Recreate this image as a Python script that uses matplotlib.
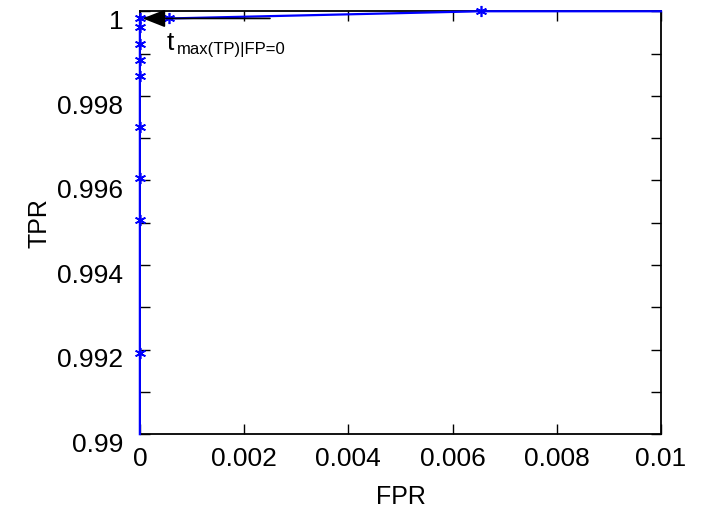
import numpy as np
import matplotlib.pyplot as plt
import matplotlib.transforms as mtransforms

plt.rcParams['font.family'] = ['Liberation Sans', 'DejaVu Sans']

# ROC points (FPR, TPR)
fpr = [0.0, 0.0, 0.0, 0.0, 0.0, 0.0, 0.0, 0.0, 0.0, 0.0, 0.00056, 0.00655, 0.01]
tpr = [0.99, 0.99191, 0.99506, 0.99605, 0.99726, 0.99846, 0.99884, 0.99922, 0.99962, 0.99985,
       0.99983, 1.0, 1.0]
star_idx = list(range(1, 12))

xticks = [0, 0.002, 0.004, 0.006, 0.008, 0.01]
xticklabels = ['0', '0.002', '0.004', '0.006', '0.008', '0.01']
yticks = [0.99, 0.992, 0.994, 0.996, 0.998, 1.0]
yticklabels = ['0.99', '0.992', '0.994', '0.996', '0.998', '1']

fig = plt.figure(figsize=(7.1, 5.12), dpi=100)
ax = fig.add_axes([0.197, 0.152, 0.734, 0.826])

ax.plot(fpr, tpr, color='blue', linewidth=1.6, clip_on=False, zorder=5)
ax.plot([fpr[i] for i in star_idx], [tpr[i] for i in star_idx], linestyle='none',
        marker=(6, 2, 0), markersize=8, markeredgecolor='blue', markeredgewidth=1.2,
        clip_on=False, zorder=6)

ax.set_xlim(0, 0.01)
ax.set_ylim(0.99, 1.0)
ax.set_xticks(xticks)
ax.set_xticklabels(xticklabels)
ax.set_yticks(yticks)
ax.set_yticklabels(yticklabels)
ax.set_yticks(np.arange(0.991, 1.0, 0.002), minor=True)
ax.tick_params(which='both', direction='in', top=True, right=True, labelsize=19)
ax.tick_params(which='both', length=7, width=1)
ax.tick_params(axis='x', pad=9)
ax.tick_params(axis='y', pad=12)
for s in ax.spines.values():
    s.set_linewidth(1.3)

# gnuplot-style: y labels sit a bit below their ticks
shift = mtransforms.ScaledTranslation(0, -6 / 72, fig.dpi_scale_trans)
for lab in ax.get_yticklabels():
    lab.set_transform(lab.get_transform() + shift)

ax.set_xlabel('FPR', fontsize=18, labelpad=10)
ax.set_ylabel('TPR', fontsize=18, labelpad=4)

ax.annotate('', xy=(0.0, 0.99983), xytext=(0.00255, 0.99983),
            arrowprops=dict(arrowstyle='-|>,head_length=1.4,head_width=0.55', color='black', lw=1.2),
            zorder=7)
ax.text(0.00052, 0.99908, 't', fontsize=19, ha='left', va='baseline')
ax.text(0.00071, 0.99900, 'max(TP)|FP=0', fontsize=12, ha='left', va='baseline')

fig.savefig('out.png', dpi=100)
